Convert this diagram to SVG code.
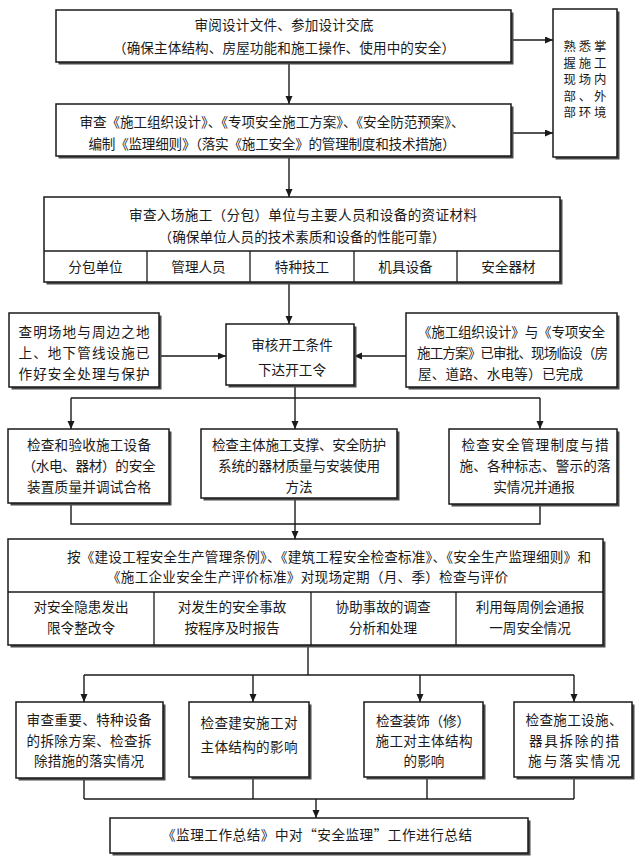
<svg xmlns="http://www.w3.org/2000/svg" width="640" height="862" viewBox="0 0 640 862">
<defs>
<style>
.sh{fill:#4a4a4a}
.bx{fill:#fff;stroke:#1a1a1a;stroke-width:1.5}
.dv{stroke:#1a1a1a;stroke-width:1.3;fill:none}
.t{font-family:"Noto Sans CJK SC","Noto Sans CJK JP",sans-serif;font-size:13.6px;fill:#1a1a1a;text-anchor:middle}
.l{text-anchor:start}
.s{font-size:12.4px}
.c{stroke:#1a1a1a;stroke-width:1.4;fill:none}
</style>
<marker id="ah" markerUnits="userSpaceOnUse" markerWidth="9" markerHeight="8" refX="8" refY="3.5" orient="auto">
<path d="M0,0 L8,3.5 L0,7 z" fill="#1a1a1a"/>
</marker>
</defs>
<rect width="640" height="862" fill="#fff"/>

<g id="connectors">
<line class="c" x1="511" y1="40" x2="553" y2="40" marker-end="url(#ah)"/>
<line class="c" x1="511" y1="133" x2="553" y2="133" marker-end="url(#ah)"/>
<line class="c" x1="289" y1="62" x2="289" y2="104" marker-end="url(#ah)"/>
<line class="c" x1="289" y1="156" x2="289" y2="197" marker-end="url(#ah)"/>
<line class="c" x1="289" y1="282" x2="289" y2="324" marker-end="url(#ah)"/>
<line class="c" x1="159" y1="356" x2="226" y2="356" marker-end="url(#ah)"/>
<line class="c" x1="406" y1="356" x2="354" y2="356" marker-end="url(#ah)"/>
<line class="c" x1="295" y1="385" x2="295" y2="398"/>
<line class="c" x1="71" y1="398" x2="540" y2="398"/>
<line class="c" x1="71" y1="398" x2="71" y2="429" marker-end="url(#ah)"/>
<line class="c" x1="295" y1="398" x2="295" y2="429" marker-end="url(#ah)"/>
<line class="c" x1="540" y1="398" x2="540" y2="429" marker-end="url(#ah)"/>
<polyline class="c" points="71,503 71,524 540,524 540,504"/>
<line class="c" x1="295" y1="498" x2="295" y2="539" marker-end="url(#ah)"/>
<line class="c" x1="308" y1="645" x2="308" y2="675"/>
<line class="c" x1="84" y1="675" x2="574" y2="675"/>
<line class="c" x1="84" y1="675" x2="84" y2="702" marker-end="url(#ah)"/>
<line class="c" x1="253" y1="675" x2="253" y2="702" marker-end="url(#ah)"/>
<line class="c" x1="420" y1="675" x2="420" y2="702" marker-end="url(#ah)"/>
<line class="c" x1="574" y1="675" x2="574" y2="702" marker-end="url(#ah)"/>
<line class="c" x1="84" y1="778" x2="84" y2="799"/>
<line class="c" x1="253" y1="777" x2="253" y2="799"/>
<line class="c" x1="427" y1="777" x2="427" y2="799"/>
<line class="c" x1="574" y1="777" x2="574" y2="799"/>
<line class="c" x1="84" y1="799" x2="574" y2="799"/>
<line class="c" x1="316" y1="799" x2="316" y2="818" marker-end="url(#ah)"/>
</g>

<g id="n1">
<rect class="sh" x="58.5" y="12.5" width="455" height="52"/>
<rect class="bx" x="56" y="10" width="455" height="52"/>
<text class="t" x="284" y="30" textLength="179">审阅设计文件、参加设计交底</text>
<text class="t" x="284" y="53" textLength="342">（确保主体结构、房屋功能和施工操作、使用中的安全）</text>
</g>

<g id="n_env">
<rect class="sh" x="555.5" y="11.5" width="64" height="148"/>
<rect class="bx" x="553" y="9" width="64" height="148"/>
<text class="t s" x="585" y="51" textLength="43">熟悉掌</text>
<text class="t s" x="585" y="67.5" textLength="43">握施工</text>
<text class="t s" x="585" y="84" textLength="43">现场内</text>
<text class="t s" x="585" y="100.5" textLength="43">部、外</text>
<text class="t s" x="585" y="117" textLength="43">部环境</text>
</g>

<g id="n2">
<rect class="sh" x="58.5" y="106.5" width="455" height="52"/>
<rect class="bx" x="56" y="104" width="455" height="52"/>
<text class="t" x="272" y="127" textLength="385">审查《施工组织设计》、《专项安全施工方案》、《安全防范预案》、</text>
<text class="t" x="272" y="149" textLength="367">编制《监理细则》（落实《施工安全》的管理制度和技术措施）</text>
</g>

<g id="n3">
<rect class="sh" x="46.5" y="199.5" width="516" height="85"/>
<rect class="bx" x="44" y="197" width="516" height="85"/>
<line class="dv" x1="44" y1="251" x2="560" y2="251"/>
<line class="dv" x1="147" y1="251" x2="147" y2="282"/>
<line class="dv" x1="250" y1="251" x2="250" y2="282"/>
<line class="dv" x1="354" y1="251" x2="354" y2="282"/>
<line class="dv" x1="457" y1="251" x2="457" y2="282"/>
<text class="t" x="303" y="220" textLength="348">审查入场施工（分包）单位与主要人员和设备的资证材料</text>
<text class="t" x="302" y="242" textLength="287">（确保单位人员的技术素质和设备的性能可靠）</text>
<text class="t" x="95.5" y="272">分包单位</text>
<text class="t" x="198.5" y="272">管理人员</text>
<text class="t" x="302" y="272">特种技工</text>
<text class="t" x="405.5" y="272">机具设备</text>
<text class="t" x="508.5" y="272">安全器材</text>
</g>

<g id="n_site">
<rect class="sh" x="11.5" y="315.5" width="150" height="74"/>
<rect class="bx" x="9" y="313" width="150" height="74"/>
<text class="t" x="84" y="337" textLength="131">查明场地与周边之地</text>
<text class="t" x="84" y="358" textLength="131">上、地下管线设施已</text>
<text class="t" x="84" y="379" textLength="131">作好安全处理与保护</text>
</g>

<g id="n_start">
<rect class="sh" x="228.5" y="326.5" width="128" height="61"/>
<rect class="bx" x="226" y="324" width="128" height="61"/>
<text class="t" x="292" y="350">审核开工条件</text>
<text class="t" x="292" y="375">下达开工令</text>
</g>

<g id="n_plan">
<rect class="sh" x="408.5" y="315.5" width="211" height="74"/>
<rect class="bx" x="406" y="313" width="211" height="74"/>
<text class="t l" x="418" y="337" textLength="187">《施工组织设计》与《专项安全</text>
<text class="t l" x="417" y="358" textLength="191">施工方案》已审批、现场临设（房</text>
<text class="t l" x="418" y="379" textLength="165">屋、道路、水电等）已完成</text>
</g>

<g id="n_equip">
<rect class="sh" x="10.5" y="431.5" width="161" height="74"/>
<rect class="bx" x="8" y="429" width="161" height="74"/>
<text class="t" x="89" y="450" textLength="124">检查和验收施工设备</text>
<text class="t" x="89" y="471" textLength="133">（水电、器材）的安全</text>
<text class="t" x="89" y="492" textLength="124">装置质量并调试合格</text>
</g>

<g id="n_support">
<rect class="sh" x="203.5" y="431.5" width="196" height="69"/>
<rect class="bx" x="201" y="429" width="196" height="69"/>
<text class="t" x="299" y="450" textLength="174">检查主体施工支撑、安全防护</text>
<text class="t" x="299" y="471" textLength="162">系统的器材质量与安装使用</text>
<text class="t" x="299" y="492">方法</text>
</g>

<g id="n_mgmt">
<rect class="sh" x="451.5" y="431.5" width="168" height="75"/>
<rect class="bx" x="449" y="429" width="168" height="75"/>
<text class="t" x="535" y="450" textLength="147">检查安全管理制度与措</text>
<text class="t" x="535" y="471" textLength="151">施、各种标志、警示的落</text>
<text class="t" x="534" y="492">实情况并通报</text>
</g>

<g id="n_inspect">
<rect class="sh" x="10.5" y="541.5" width="595" height="106"/>
<rect class="bx" x="8" y="539" width="595" height="106"/>
<line class="dv" x1="8" y1="592" x2="603" y2="592"/>
<line class="dv" x1="154" y1="592" x2="154" y2="645"/>
<line class="dv" x1="311" y1="592" x2="311" y2="645"/>
<line class="dv" x1="456" y1="592" x2="456" y2="645"/>
<text class="t l" x="67" y="562" textLength="524">按《建设工程安全生产管理条例》、《建筑工程安全检查标准》、《安全生产监理细则》和</text>
<text class="t l" x="107" y="582" textLength="401">《施工企业安全生产评价标准》对现场定期（月、季）检查与评价</text>
<text class="t" x="81" y="612">对安全隐患发出</text>
<text class="t" x="81" y="633">限令整改令</text>
<text class="t" x="232" y="612">对发生的安全事故</text>
<text class="t" x="232" y="633">按程序及时报告</text>
<text class="t" x="383" y="612">协助事故的调查</text>
<text class="t" x="383" y="633">分析和处理</text>
<text class="t" x="530" y="612">利用每周例会通报</text>
<text class="t" x="530" y="633">一周安全情况</text>
</g>

<g id="n_remove">
<rect class="sh" x="18.5" y="704.5" width="147" height="76"/>
<rect class="bx" x="16" y="702" width="147" height="76"/>
<text class="t" x="89" y="725" textLength="125">审查重要、特种设备</text>
<text class="t" x="89" y="746" textLength="125">的拆除方案、检查拆</text>
<text class="t" x="89" y="766" textLength="110">除措施的落实情况</text>
</g>

<g id="n_install">
<rect class="sh" x="191.5" y="704.5" width="120" height="75"/>
<rect class="bx" x="189" y="702" width="120" height="75"/>
<text class="t" x="249" y="728" textLength="97">检查建安施工对</text>
<text class="t" x="249" y="752" textLength="97">主体结构的影响</text>
</g>

<g id="n_decor">
<rect class="sh" x="366.5" y="704.5" width="119" height="75"/>
<rect class="bx" x="364" y="702" width="119" height="75"/>
<text class="t" x="423" y="726" textLength="94">检查装饰（修）</text>
<text class="t" x="424" y="746" textLength="97">施工对主体结构</text>
<text class="t" x="424" y="766">的影响</text>
</g>

<g id="n_facility">
<rect class="sh" x="516.5" y="704.5" width="118" height="75"/>
<rect class="bx" x="514" y="702" width="118" height="75"/>
<text class="t" x="574" y="725" textLength="97">检查施工设施、</text>
<text class="t" x="574" y="746" textLength="90">器具拆除的措</text>
<text class="t" x="574" y="766" textLength="92">施与落实情况</text>
</g>

<g id="n_summary">
<rect class="sh" x="112.5" y="820.5" width="418" height="35"/>
<rect class="bx" x="110" y="818" width="418" height="35"/>
<text class="t" x="317" y="840" textLength="310">《监理工作总结》中对“安全监理”工作进行总结</text>
</g>
</svg>
